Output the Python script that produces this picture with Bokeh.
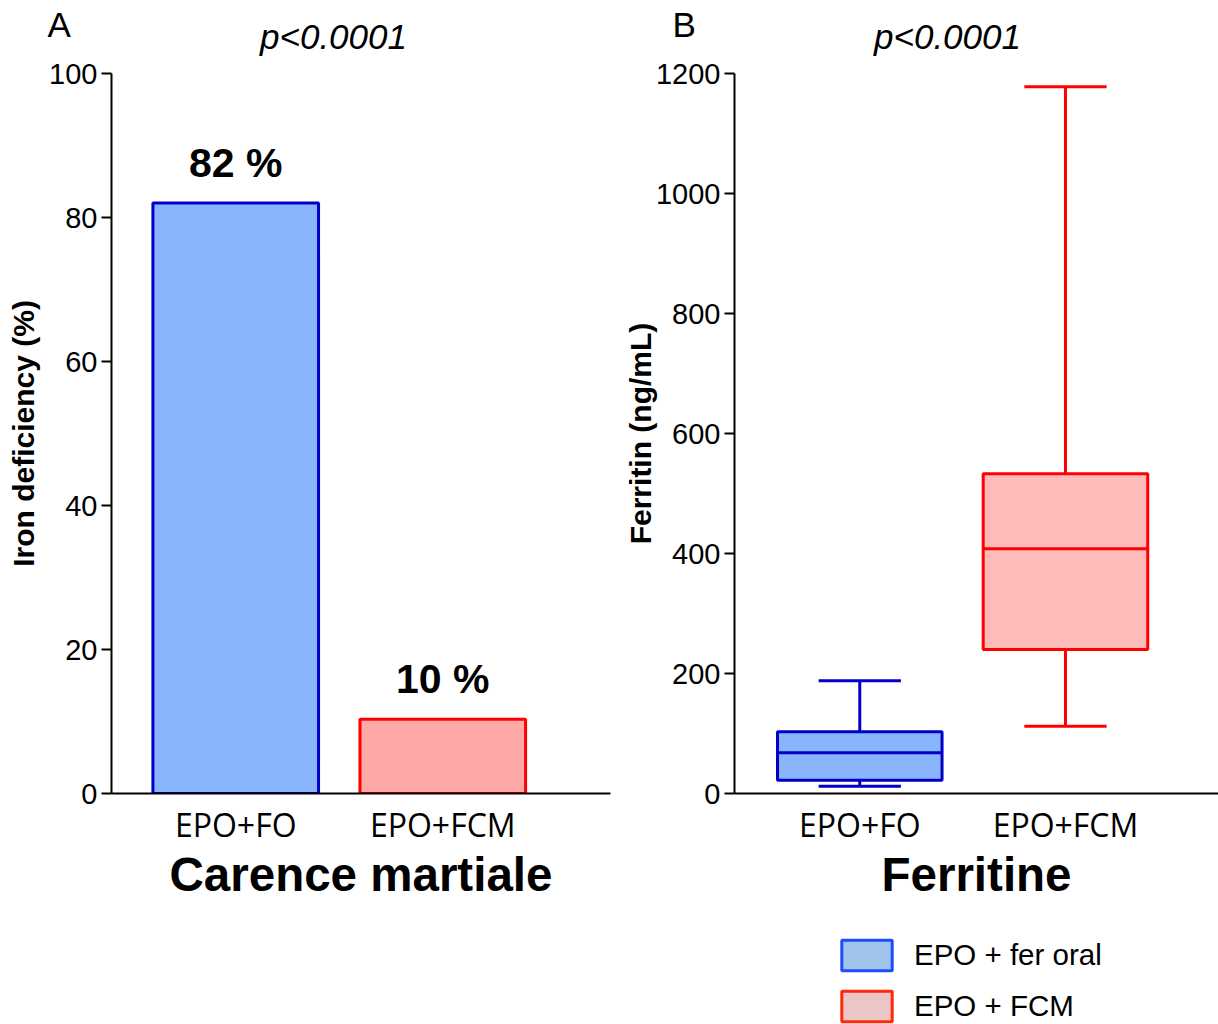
from bokeh.plotting import figure
from bokeh.layouts import row, column
from bokeh.models import Range1d, FixedTicker, Label, Legend, LegendItem
from bokeh.core.properties import value
from bokeh.embed import file_html
from bokeh.resources import INLINE

# ---------------- data ----------------
categories = ["EPO+FO", "EPO+FCM"]
deficiency_pct = [82, 10.3]
deficiency_labels = ["82 %", "10 %"]
y_ticks_a = [0, 20, 40, 60, 80, 100]

ferritin_low = [12, 112]
ferritin_q1 = [22, 240]
ferritin_median = [68, 408]
ferritin_q3 = [103, 533]
ferritin_high = [188, 1178]
y_ticks_b = [0, 200, 400, 600, 800, 1000, 1200]

legend_labels = ["EPO + fer oral", "EPO + FCM"]
p_value_text = "p<0.0001"
panel_letters = ["A", "B"]

# ---------------- styles ----------------
bar_fill = ["#89b5fc", "#ffa8a8"]
bar_line = ["#0000c8", "#ff0000"]
box_fill = ["#89b5fc", "#ffbaba"]
box_line = ["#0000c8", "#ff0000"]
legend_fill = ["#a0c3e9", "#ebc6c6"]
legend_line = ["#1b4cff", "#ff2a0a"]

FONT = "Liberation Sans"
pos = list(range(len(categories)))

W1, W2 = 620, 598
HEAD_H = 56
TOP_B = 73 - HEAD_H
MAIN_H = 930 - HEAD_H
LEG_H = 1024 - HEAD_H - MAIN_H


def blank(width, height):
    f = figure(width=width, height=height, output_backend="svg", toolbar_location=None,
               x_range=Range1d(0, width), y_range=Range1d(0, height),
               x_axis_type=None, y_axis_type=None,
               min_border_left=0, min_border_right=0, min_border_top=0, min_border_bottom=0)
    f.xgrid.visible = False
    f.ygrid.visible = False
    f.outline_line_color = None
    f.background_fill_color = "white"
    f.border_fill_color = "white"
    return f


def style(p, ticks):
    p.xgrid.visible = False
    p.ygrid.visible = False
    p.outline_line_color = None
    p.background_fill_color = "white"
    p.border_fill_color = "white"
    for ax in (p.xaxis[0], p.yaxis[0]):
        ax.axis_line_width = 2
        ax.axis_line_color = "black"
        ax.minor_tick_line_color = None
    xa = p.xaxis[0]
    xa.ticker = FixedTicker(ticks=pos)
    xa.major_label_overrides = {i: c for i, c in enumerate(categories)}
    xa.major_tick_line_color = None
    xa.major_tick_out = 0
    xa.major_label_standoff = 9
    xa.major_label_text_font = "Open Sans"
    xa.major_label_text_font_size = "32px"
    xa.major_label_text_color = "black"
    xa.axis_label_text_font = FONT
    xa.axis_label_text_font_style = "bold"
    xa.axis_label_text_font_size = "47.5px"
    xa.axis_label_text_color = "black"
    xa.axis_label_standoff = -1
    ya = p.yaxis[0]
    ya.ticker = FixedTicker(ticks=ticks)
    ya.major_tick_in = 0
    ya.major_tick_out = 10
    ya.major_tick_line_width = 2
    ya.major_label_standoff = 4
    ya.major_label_text_font = FONT
    ya.major_label_text_font_size = "29px"
    ya.major_label_text_color = "black"
    ya.axis_label_text_font = FONT
    ya.axis_label_text_font_style = "bold"
    ya.axis_label_text_font_size = "30px"
    ya.axis_label_text_color = "black"


# ---------------- header row ----------------
heads = []
for letter, lx, px_, w in zip(panel_letters, [47, 52], [333, 327], [W1, W2]):
    h = blank(w, HEAD_H)
    h.add_layout(Label(x=lx, y=HEAD_H - 37 + 13, x_units="screen", y_units="screen",
                       text=letter, text_font=FONT, text_font_size="35px",
                       text_align="left", text_baseline="alphabetic", text_color="black"))
    h.add_layout(Label(x=px_, y=HEAD_H - 49 + 13, x_units="screen", y_units="screen",
                       text=p_value_text, text_font=FONT, text_font_size="35px",
                       text_font_style="italic", text_align="center",
                       text_baseline="alphabetic", text_color="black"))
    heads.append(h)

# ---------------- panel A ----------------
p1 = figure(width=W1, height=MAIN_H, output_backend="svg", toolbar_location=None,
            x_range=Range1d(-0.6, 1.81), y_range=Range1d(0, 100),
            min_border_left=111, min_border_right=10, min_border_top=TOP_B,
            min_border_bottom=MAIN_H - TOP_B - 720,
            x_axis_label="Carence martiale", y_axis_label="Iron deficiency (%)")
style(p1, y_ticks_a)
p1.yaxis[0].axis_label_standoff = 6
p1.vbar(x=pos, top=deficiency_pct, bottom=0, width=0.8,
        fill_color=bar_fill, line_color=bar_line, line_width=3)
p1.text(x=pos, y=deficiency_pct, text=deficiency_labels, text_align="center",
        text_baseline="alphabetic", y_offset=-40,
        text_font=value(FONT), text_font_style="bold", text_font_size="41px",
        text_color="black")

# ---------------- panel B ----------------
p2 = figure(width=W2, height=MAIN_H, output_backend="svg", toolbar_location=None,
            x_range=Range1d(-0.609, 1.744), y_range=Range1d(0, 1200),
            min_border_left=111, min_border_right=0, min_border_top=TOP_B,
            min_border_bottom=MAIN_H - TOP_B - 720,
            x_axis_label="Ferritine", y_axis_label="Ferritin (ng/mL)")
style(p2, y_ticks_b)
p2.yaxis[0].axis_label_standoff = -4

cap_l = [x - 0.2 for x in pos]
cap_r = [x + 0.2 for x in pos]
box_l = [x - 0.4 for x in pos]
box_r = [x + 0.4 for x in pos]
# whiskers
p2.segment(x0=pos, y0=ferritin_q3, x1=pos, y1=ferritin_high, line_color=box_line, line_width=3)
p2.segment(x0=pos, y0=ferritin_low, x1=pos, y1=ferritin_q1, line_color=box_line, line_width=3)
# caps
p2.segment(x0=cap_l, y0=ferritin_high, x1=cap_r, y1=ferritin_high, line_color=box_line, line_width=3)
p2.segment(x0=cap_l, y0=ferritin_low, x1=cap_r, y1=ferritin_low, line_color=box_line, line_width=3)
# boxes
p2.vbar(x=pos, bottom=ferritin_q1, top=ferritin_q3, width=0.8,
        fill_color=box_fill, line_color=box_line, line_width=3)
# median
p2.segment(x0=box_l, y0=ferritin_median, x1=box_r, y1=ferritin_median, line_color=box_line, line_width=3)

# ---------------- legend row ----------------
p3 = blank(W1 + W2, LEG_H)
leg_items = []
for i, (lab, fc, lc) in enumerate(zip(legend_labels, legend_fill, legend_line)):
    # hidden renderer built from the box data, used only for the legend swatch
    r = p3.vbar(x=pos[i:i + 1], bottom=ferritin_q1[i:i + 1], top=ferritin_q3[i:i + 1],
                width=0.5, fill_color=fc, line_color=lc, line_width=3)
    r.visible = False
    leg_items.append(LegendItem(label=lab, renderers=[r]))
legend = Legend(items=leg_items, location=(835, -1), glyph_width=63, glyph_height=38,
                spacing=13, padding=0, margin=0, border_line_color=None,
                background_fill_alpha=0, label_standoff=16,
                inactive_fill_alpha=0,
                label_text_font=FONT, label_text_font_size="29.5px",
                label_text_color="black", label_height=38)
p3.add_layout(legend)

layout = column(row(*heads), row(p1, p2), p3)
open("out.html", "w").write(file_html(layout, INLINE))
